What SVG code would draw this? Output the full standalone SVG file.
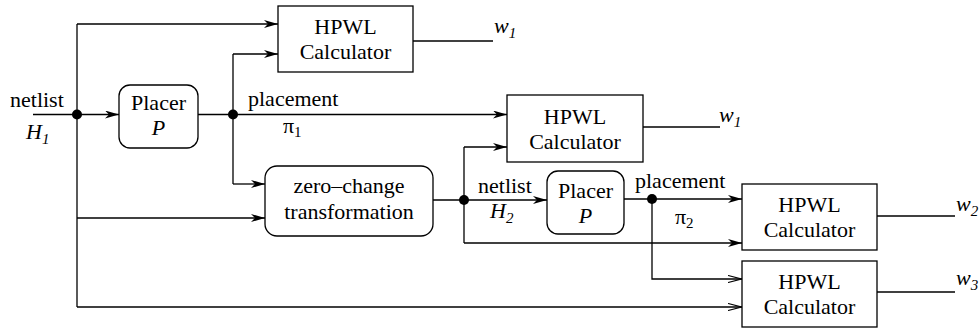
<svg xmlns="http://www.w3.org/2000/svg" width="979" height="333" viewBox="0 0 979 333" font-family="Liberation Serif, DejaVu Serif, Noto Serif, Times New Roman, serif" font-size="22">
<defs>
<marker id="af" markerUnits="userSpaceOnUse" viewBox="0 0 14 8" refX="14" refY="4" markerWidth="14" markerHeight="8" orient="auto">
<path d="M0,0 L14,4 L0,8 L4,4 z" fill="#000"/>
</marker>
<marker id="ao" markerUnits="userSpaceOnUse" viewBox="0 0 14 8" refX="14" refY="4" markerWidth="14" markerHeight="8" orient="auto">
<path d="M0,0.5 L13.5,4 L0,7.5" fill="none" stroke="#000" stroke-width="1.2"/>
</marker>
</defs>
<style>
.b{fill:#fff;stroke:#000;stroke-width:1.3}
.c{fill:none;stroke:#000;stroke-width:1.3}
.m{text-anchor:middle}
.i{font-style:italic}
.s{font-size:15px}
</style>
<rect width="979" height="333" fill="#fff"/>
<g id="connectors">
<path class="c" d="M33,114.5 H77"/>
<path class="c" d="M77,114.5 H119" marker-end="url(#af)"/>
<path class="c" d="M77,24 V307"/>
<path class="c" d="M77,24 H278" marker-end="url(#af)"/>
<path class="c" d="M77,218 H265" marker-end="url(#af)"/>
<path class="c" d="M77,307 H742" marker-end="url(#ao)"/>
<path class="c" d="M198,114.5 H507" marker-end="url(#af)"/>
<path class="c" d="M233,54 V184"/>
<path class="c" d="M233,54 H278" marker-end="url(#af)"/>
<path class="c" d="M233,184 H265" marker-end="url(#af)"/>
<path class="c" d="M433,200 H547" marker-end="url(#af)"/>
<path class="c" d="M464,147 V243"/>
<path class="c" d="M464,147 H507" marker-end="url(#af)"/>
<path class="c" d="M464,243 H742" marker-end="url(#af)"/>
<path class="c" d="M624,199 H742" marker-end="url(#af)"/>
<path class="c" d="M652,199 V279 H742" marker-end="url(#ao)"/>
<path class="c" d="M413,41 H493"/>
<path class="c" d="M643,127 H720"/>
<path class="c" d="M877,216 H955"/>
<path class="c" d="M877,292 H955"/>
<circle cx="77" cy="114.5" r="5"/>
<circle cx="233" cy="114.5" r="5"/>
<circle cx="464" cy="200" r="5"/>
<circle cx="652" cy="199" r="5"/>
</g>
<g id="labels">
<text x="10" y="107">netlist</text>
<text class="i" x="26" y="139">H<tspan class="s" dy="5">1</tspan></text>
<text x="248" y="106">placement</text>
<text x="283" y="133">π<tspan class="s" dy="4">1</tspan></text>
<text x="478" y="193">netlist</text>
<text class="i" x="490" y="218">H<tspan class="s" dy="5">2</tspan></text>
<text x="635" y="188">placement</text>
<text x="675" y="224">π<tspan class="s" dy="4">2</tspan></text>
<text class="i" x="494" y="33">w<tspan class="s" dy="5">1</tspan></text>
<text class="i" x="719" y="122">w<tspan class="s" dy="5">1</tspan></text>
<text class="i" x="956" y="211">w<tspan class="s" dy="5">2</tspan></text>
<text class="i" x="956" y="285">w<tspan class="s" dy="5">3</tspan></text>
</g>
<g id="hpwl1">
<rect class="b" x="278" y="6" width="135" height="66"/>
<text class="m" x="345.5" y="34">HPWL</text>
<text class="m" x="345.5" y="59">Calculator</text>
</g>
<g id="placer1">
<rect class="b" x="119" y="85" width="79" height="63" rx="11"/>
<text class="m" x="158.5" y="110">Placer</text>
<text class="m i" x="158.5" y="135">P</text>
</g>
<g id="hpwl2">
<rect class="b" x="507" y="95" width="136" height="67"/>
<text class="m" x="575" y="124">HPWL</text>
<text class="m" x="575" y="149">Calculator</text>
</g>
<g id="zerochange">
<rect class="b" x="265" y="166" width="168" height="70" rx="12"/>
<text class="m" x="349" y="193">zero–change</text>
<text class="m" x="349" y="219">transformation</text>
</g>
<g id="placer2">
<rect class="b" x="547" y="171" width="77" height="63" rx="11"/>
<text class="m" x="585.5" y="198">Placer</text>
<text class="m i" x="585.5" y="223">P</text>
</g>
<g id="hpwl3">
<rect class="b" x="742" y="184" width="135" height="66"/>
<text class="m" x="809.5" y="212">HPWL</text>
<text class="m" x="809.5" y="237">Calculator</text>
</g>
<g id="hpwl4">
<rect class="b" x="742" y="261" width="135" height="66"/>
<text class="m" x="809.5" y="289">HPWL</text>
<text class="m" x="809.5" y="314">Calculator</text>
</g>
</svg>
